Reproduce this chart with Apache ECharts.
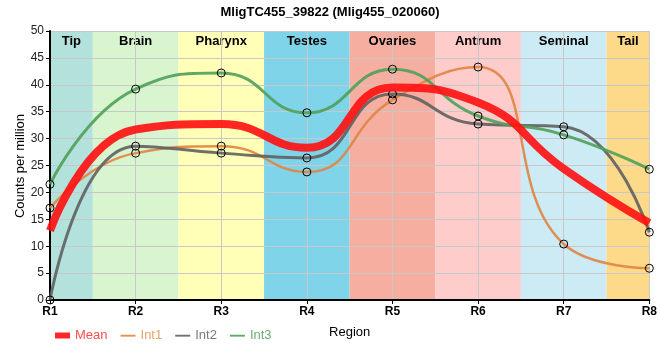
<!DOCTYPE html>
<html>
<head>
<meta charset="utf-8">
<script src="https://cdn.jsdelivr.net/npm/echarts@6/dist/echarts.min.js"></script>
<style>html,body{margin:0;padding:0;background:#fff}#c{width:660px;height:360px}</style>
</head>
<body>
<div id="c"></div>
<script>
var titleText = 'MligTC455_39822 (Mlig455_020060)';
var yAxisTitle = 'Counts per million';
var xAxisTitle = 'Region';
var categories = ['R1', 'R2', 'R3', 'R4', 'R5', 'R6', 'R7', 'R8'];
var regions = ['Tip', 'Brain', 'Pharynx', 'Testes', 'Ovaries', 'Antrum', 'Seminal', 'Tail'];
var regionColors = ['#b3e2dc', '#d8f5d0', '#ffffb8', '#80d4ea', '#f5ae9f', '#ffcccc', '#cdebf5', '#fdd98a'];
var meanVals = [12.9, 31.7, 32.7, 28.3, 39.5, 36.7, 24.4, 14.3];
var int1Vals = [17.1, 27.3, 28.6, 23.8, 37.2, 43.3, 10.4, 5.9];
var int2Vals = [0, 28.6, 27.3, 26.4, 38.3, 32.7, 32.2, 12.6];
var int3Vals = [21.5, 39.2, 42.2, 34.8, 42.9, 34.2, 30.7, 24.3];
var yTicks = [0, 5, 10, 15, 20, 25, 30, 35, 40, 45, 50];

var FONT = '"Liberation Sans", Arial, sans-serif';
var chart = echarts.init(document.getElementById('c'), null, {renderer: 'canvas'});

var n = categories.length;
var bands = regions.map(function (r, i) {
  return [
    {name: r, xAxis: Math.max(0, i - 0.5), itemStyle: {color: regionColors[i]}},
    {xAxis: Math.min(n - 1, i + 0.5)}
  ];
});

var colMean = 'rgba(255,16,16,0.9)';
var colInt1 = 'rgba(224,132,66,0.9)';
var colInt2 = 'rgba(96,96,96,0.9)';
var colInt3 = 'rgba(80,160,88,0.9)';

function lineSeries(name, data, color, width, withSymbols, z) {
  return {
    name: name, type: 'line', data: data, smooth: 0.5,
    xAxisIndex: 0, yAxisIndex: 0, z: z, clip: false,
    lineStyle: {color: color, width: width},
    itemStyle: {color: 'rgba(0,0,0,0)', borderColor: '#000', borderWidth: 1},
    symbol: withSymbols ? 'circle' : 'none', symbolSize: 8, showSymbol: withSymbols,
    emphasis: {disabled: true}
  };
}

var lineIcon = 'path://M0,0 M20,10 M0,4 L20,4 L20,6.5 L0,6.5 Z';
var meanIcon = 'path://M0,0 M20,10 M0,1 L20,1 L20,9 L0,9 Z';
function legItem(name, icon, fill, textColor) {
  return {name: name, icon: icon, itemStyle: {color: fill, borderWidth: 0, opacity: 1},
    textStyle: {color: textColor}};
}

chart.setOption({
  animation: false,
  backgroundColor: '#fff',
  title: {
    text: titleText, left: 'center', top: 1,
    textStyle: {fontFamily: FONT, fontSize: 13, fontWeight: 'bold', color: '#000'}
  },
  graphic: [{
    type: 'text', x: 20, y: 166, rotation: Math.PI / 2,
    style: {text: yAxisTitle, fontFamily: FONT, fontSize: 13, fill: '#000',
      align: 'center', verticalAlign: 'middle'}
  }],
  grid: {left: 50, right: 10, top: 31, bottom: 60, containLabel: false},
  legend: {
    left: 50, top: 324, itemWidth: 15, itemHeight: 10, itemGap: 13,
    textStyle: {fontFamily: FONT, fontSize: 13},
    data: [
      legItem('Mean', meanIcon, colMean, '#ff4d4d'),
      legItem('Int1', lineIcon, colInt1, '#e8a466'),
      legItem('Int2', lineIcon, colInt2, '#7a7a7a'),
      legItem('Int3', lineIcon, colInt3, '#6aae72')
    ]
  },
  xAxis: [{
    type: 'category', data: categories, boundaryGap: false, z: 3,
    name: xAxisTitle, nameLocation: 'middle', nameGap: 26,
    nameTextStyle: {fontFamily: FONT, fontSize: 13, color: '#000'},
    axisLine: {lineStyle: {color: '#000', width: 2}},
    axisTick: {show: true, length: 4, lineStyle: {color: '#000'}},
    axisLabel: {fontFamily: FONT, fontSize: 12, fontWeight: 'bold', color: '#000', margin: 6},
    splitLine: {show: true, lineStyle: {color: '#c8c8c8', width: 1}}
  }, {
    type: 'value', min: 0, max: n - 1, show: false
  }],
  yAxis: {
    type: 'value', min: 0, max: 50, interval: 5, z: 3,
    axisLine: {show: true, lineStyle: {color: '#000', width: 2}},
    axisTick: {show: true, length: 4, lineStyle: {color: '#000'}},
    axisLabel: {fontFamily: FONT, fontSize: 12, color: '#222', margin: 6,
      formatter: function (v) { return yTicks.indexOf(v) >= 0 ? String(v) : ''; }},
    splitLine: {show: true, lineStyle: {color: '#c8c8c8', width: 1}}
  },
  series: [
    {
      name: 'bands', type: 'line', xAxisIndex: 1, yAxisIndex: 0, data: [], z: 1,
      silent: true, legendHoverLink: false,
      markArea: {
        silent: true,
        label: {show: true, position: 'insideTop', distance: 4,
          fontFamily: FONT, fontSize: 13, fontWeight: 'bold', color: '#000'},
        data: bands
      }
    },
    lineSeries('Int1', int1Vals, colInt1, 2.5, true, 4),
    lineSeries('Int2', int2Vals, colInt2, 3, true, 4),
    lineSeries('Int3', int3Vals, colInt3, 3, true, 4),
    lineSeries('Mean', meanVals, colMean, 8, false, 5)
  ]
});
</script>
</body>
</html>
